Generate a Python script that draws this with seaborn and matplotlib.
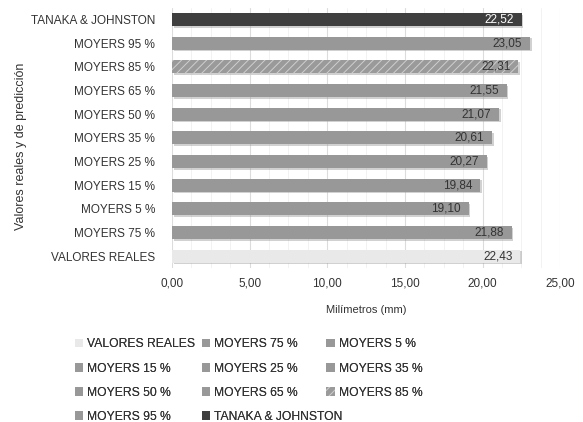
import matplotlib
matplotlib.use("Agg")
import matplotlib.pyplot as plt
import matplotlib.patheffects as pe
from matplotlib.patches import Patch
from matplotlib.ticker import MultipleLocator, FuncFormatter
import seaborn as sns
import pandas as pd

# 데이터 (위에서 아래 순서)
categorias = ["TANAKA & JOHNSTON", "MOYERS 95 %", "MOYERS 85 %", "MOYERS 65 %",
              "MOYERS 50 %", "MOYERS 35 %", "MOYERS 25 %", "MOYERS 15 %",
              "MOYERS 5 %", "MOYERS 75 %", "VALORES REALES"]
valores = [22.52, 23.05, 22.31, 21.55, 21.07, 20.61, 20.27, 19.84, 19.10, 21.88, 22.43]
colores = ["#3f3f3f", "#989898", "#9a9a9a", "#989898", "#989898", "#989898",
           "#989898", "#989898", "#989898", "#989898", "#e9e9e9"]

sns.set_style("white")
plt.rcParams['font.family'] = ['Liberation Sans', 'DejaVu Sans']
plt.rcParams['hatch.linewidth'] = 0.7

df = pd.DataFrame({"cat": categorias, "val": valores})
pal = dict(zip(categorias, colores))

fig = plt.figure(figsize=(5.83, 4.22), dpi=100)
ax = fig.add_axes([0.295, 0.365, 0.666, 0.617])

sns.barplot(data=df, y="cat", x="val", hue="cat", order=categorias,
            palette=pal, dodge=False, width=0.55, legend=False, ax=ax,
            linewidth=0, saturation=1)

shadow = [pe.SimplePatchShadow(offset=(1.2, -1.2), shadow_rgbFace="#9a9a9a", alpha=0.45),
          pe.Normal()]
for bar, cat, v in zip(ax.patches, categorias, valores):
    bar.set_path_effects(shadow)
    if cat == "MOYERS 85 %":
        bar.set_hatch("////")
        bar.set_edgecolor("#cfcfcf")
    txt_color = "white" if cat == "TANAKA & JOHNSTON" else "#333333"
    ax.text(v - 0.5, bar.get_y() + bar.get_height() / 2, f"{v:.2f}".replace(".", ","),
            ha="right", va="center", fontsize=8.5, color=txt_color)

ax.set_xlim(0, 25)
ax.set_ylim(len(categorias) - 0.5, -0.5)
ax.xaxis.set_major_locator(MultipleLocator(5))
ax.xaxis.set_minor_locator(MultipleLocator(1.25))
ax.xaxis.set_major_formatter(FuncFormatter(lambda x, p: f"{x:.2f}".replace(".", ",")))
ax.grid(axis="x", which="major", color="#dcdcdc", linewidth=0.8)
ax.grid(axis="x", which="minor", color="#f0f0f0", linewidth=0.6)
ax.set_axisbelow(True)
for s in ax.spines.values():
    s.set_visible(False)
ax.tick_params(axis="both", length=0, labelsize=8.5, labelcolor="#333333")
ax.tick_params(axis="x", pad=7)
ax.tick_params(axis="y", pad=12)
ax.set_xlabel("Milímetros (mm)", fontsize=8, color="#333333", labelpad=11)
ax.set_ylabel("")
fig.text(0.036, 0.654, "Valores reales y de predicción", rotation=90,
         ha="center", va="center", fontsize=9, color="#333333")

# 범례 (아래에서 위 순서, 행 우선으로 3열)
orden_leyenda = categorias[::-1]
handles = []
for cat in orden_leyenda:
    if cat == "MOYERS 85 %":
        handles.append(Patch(facecolor=pal[cat], edgecolor="#cfcfcf", hatch="////",
                             linewidth=0, label=cat))
    else:
        handles.append(Patch(facecolor=pal[cat], linewidth=0, label=cat))

col_x = [0.128, 0.346, 0.560]
for c in range(3):
    leg = fig.legend(handles=handles[c::3], loc="upper left",
                     bbox_to_anchor=(col_x[c], 0.198), frameon=False, fontsize=8.7,
                     handlelength=0.7, handleheight=0.7, handletextpad=0.3,
                     labelspacing=1.0, labelcolor="#333333", borderaxespad=0,
                     borderpad=0)
    fig.add_artist(leg)

plt.savefig("out.png", dpi=100)
